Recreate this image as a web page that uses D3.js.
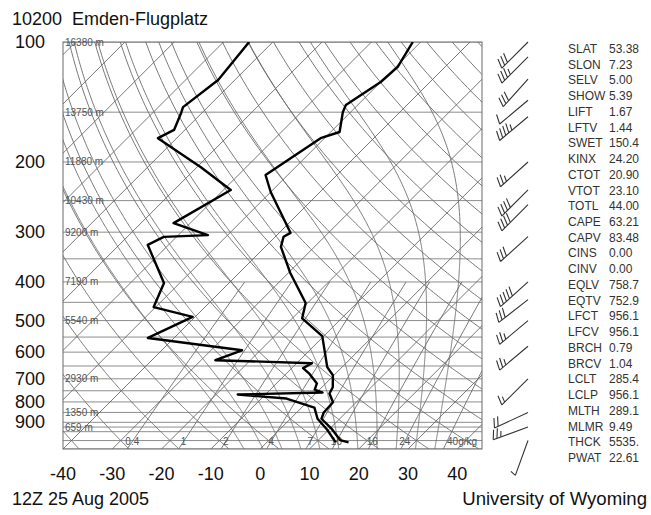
<!DOCTYPE html>
<html><head><meta charset="utf-8">
<script src="https://cdn.jsdelivr.net/npm/d3@7"></script>
<style>body{margin:0;background:#fff}svg{display:block}</style>
</head><body>
<svg id="c" width="651" height="515"></svg>
<script>
// ---------------- data ----------------
const stationTitle = "10200  Emden-Flugplatz";
const footLeft = "12Z 25 Aug 2005";
const footRight = "University of Wyoming";
const pressureTicks = [100,200,300,400,500,600,700,800,900];
const isobarLevels = [100,150,200,250,300,350,400,450,500,550,600,650,700,750,800,850,900,925,950,1000,1050];
const heightLevels = [100,150,200,250,300,400,500,700,850,925];
const heightTexts = ["16380 m","13750 m","11880 m","10430 m","9200 m","7190 m","5540 m","2930 m","1350 m","659 m"];
const tempTicks = [-40,-30,-20,-10,0,10,20,30,40];
const isothermValues = d3.range(-130, 50, 10);
const dryAdiabats = d3.range(-40, 190, 10);
const moistAdiabats = [-6,-2,2,6,10,14,18,22,26,30,34];
const mixRatios = [0.4,1,2,4,7,10,16,24,40];
const mixLabels = ["0.4","1","2","4","7","10","16","24","40g/kg"];

const tempP = [100,115.5,126,143.9,149.8,168.2,174.3,215.6,237.9,301.2,308.2,326.6,379.8,451.6,493.4,547,654.3,685.9,734.9,762,801.7,850.5,881.6,933,997,1011];
const tempT = [-51.6,-49.6,-50.0,-52.4,-51.6,-48.2,-50.8,-54.5,-50.0,-37.7,-38.3,-36.8,-29.6,-20.4,-18.0,-10.3,-3.0,-0.2,2.2,2.8,5.3,5.5,6.3,10.3,14.4,16.6];
const dewP = [100,124.5,145.7,150.7,166.2,174.3,206.1,235.2,284.7,305.1,308.2,323,402.3,462.4,489.5,552.8,593.6,628.7,639.6,658.1,681.7,718.8,744.8,757.8,766.6,784.5,826.5,881.6,939.7,1011];
const dewT = [-84.8,-83.4,-85.0,-84.2,-82.2,-83.8,-69.2,-58.5,-63.4,-54.0,-62.6,-64.2,-53.2,-50.4,-40.5,-45.3,-23.7,-27.1,-6.9,-7.7,-5.1,-1.8,-1.0,1.2,-15.6,-4.9,2.6,5.5,9.7,14.0];

const windP   = [100,109,124,140,154,200,235,256,308,400,443,500,580,700,850,925,1000];
const windDir = [225,225,222,230,230,228,225,225,228,228,232,230,230,225,245,250,200];
const windSpd = [30,35,30,10,45,25,40,40,30,50,30,25,25,15,20,25,5];

const statNames  = ["SLAT","SLON","SELV","SHOW","LIFT","LFTV","SWET","KINX","CTOT","VTOT","TOTL","CAPE","CAPV","CINS","CINV","EQLV","EQTV","LFCT","LFCV","BRCH","BRCV","LCLT","LCLP","MLTH","MLMR","THCK","PWAT"];
const statValues = ["53.38","7.23","5.00","5.39","1.67","1.44","150.4","24.20","20.90","23.10","44.00","63.21","83.48","0.00","0.00","758.7","752.9","956.1","956.1","0.79","1.04","285.4","956.1","289.1","9.49","5535.","22.61"];

// ---------------- layout ----------------
const L = 63, R = 482, T = 42, B = 449;
const FONT = "'Liberation Sans', Arial, Helvetica, sans-serif";
const svg = d3.select("#c");
const y = d3.scaleLog().domain([1050, 100]).range([B, T]);
const x = d3.scaleLinear().domain([-40, 45]).range([L, R]);
const skew = 1.0;
const X = (t, p) => x(t) + (B - y(p)) * skew;

svg.append("defs").append("clipPath").attr("id","plot")
  .append("rect").attr("x",L).attr("y",T).attr("width",R-L).attr("height",B-T);

const grid = svg.append("g").attr("clip-path","url(#plot)")
  .attr("fill","none").attr("stroke","#6a6a6a").attr("stroke-width",0.9);
const line = d3.line().x(d=>d[0]).y(d=>d[1]);

// isobars
grid.selectAll(".isobar").data(isobarLevels).join("line")
  .attr("x1",L).attr("x2",R).attr("y1",d=>y(d)).attr("y2",d=>y(d))
  .attr("stroke","#808080");

// isotherms
grid.selectAll(".iso").data(isothermValues).join("line")
  .attr("x1",d=>X(d,1050)).attr("y1",y(1050))
  .attr("x2",d=>X(d,100)).attr("y2",y(100));

const pLevels = d3.range(1050, 99, -5);
// dry adiabats
grid.selectAll(".dry").data(dryAdiabats).join("path")
  .attr("d", th => line(pLevels.map(p => {
    const tk = (th + 273.15) * Math.pow(p/1000, 0.2857) - 273.15;
    return [X(tk,p), y(p)];
  })));

// moist adiabats
function es(tc){ return 6.112*Math.exp(17.67*tc/(tc+243.5)); }
function dTdp(tk, p){
  const Rd=287.04, Cp=1005.7, Lv=2.501e6, eps=0.622;
  const e = es(tk-273.15), rs = eps*e/(p-e);
  return (Rd*tk + Lv*rs)/(Cp + Lv*Lv*rs*eps/(Rd*tk*tk))/p;
}
function moist(t0){
  let tk=t0+273.15, p=1000, h=-2;
  const up=[[p,tk]];
  while(p>100){ const k1=dTdp(tk,p),k2=dTdp(tk+h*k1/2,p+h/2),k3=dTdp(tk+h*k2/2,p+h/2),k4=dTdp(tk+h*k3,p+h);
    tk+=h*(k1+2*k2+2*k3+k4)/6; p+=h; up.push([p,tk]); }
  tk=t0+273.15; p=1000; h=2; const dn=[];
  while(p<1050){ const k1=dTdp(tk,p),k2=dTdp(tk+h*k1/2,p+h/2),k3=dTdp(tk+h*k2/2,p+h/2),k4=dTdp(tk+h*k3,p+h);
    tk+=h*(k1+2*k2+2*k3+k4)/6; p+=h; dn.push([p,tk]); }
  return dn.reverse().concat(up).map(([pp,t])=>[X(t-273.15,pp),y(pp)]);
}
grid.selectAll(".moist").data(moistAdiabats).join("path").attr("d", d=>line(moist(d)));

// mixing ratio lines
function tdOf(w,p){ const e=w*p/(622+w); const l=Math.log(e/6.112); return 243.5*l/(17.67-l); }
const mixP = d3.range(1050, 399, -10);
grid.selectAll(".mix").data(mixRatios).join("path")
  .attr("d", w => line(mixP.map(p => [X(tdOf(w,p),p), y(p)])));

// border
svg.append("rect").attr("x",L).attr("y",T).attr("width",R-L).attr("height",B-T)
  .attr("fill","none").attr("stroke","#6a6a6a").attr("stroke-width",1);

// height labels
svg.append("g").selectAll("text").data(heightLevels).join("text")
  .attr("x",L+2).attr("y",d=>y(d)+3.5).text((d,i)=>heightTexts[i])
  .attr("font-family",FONT).attr("font-size",10).attr("fill","#555");

// mixing ratio labels
svg.append("g").selectAll("text").data(mixRatios).join("text")
  .attr("x",w=>X(tdOf(w,1005),1005)).attr("y",y(1005)+4).attr("text-anchor",(w,i)=>i===8?"start":"middle")
  .text((w,i)=>mixLabels[i]).attr("font-family",FONT).attr("font-size",10).attr("fill","#555");

// profiles
const prof = svg.append("g").attr("clip-path","url(#plot)").attr("fill","none")
  .attr("stroke","#000").attr("stroke-width",2.4).attr("stroke-linejoin","round");
prof.append("path").attr("d", line(tempP.map((p,i)=>[X(tempT[i],p), y(p)])));
prof.append("path").attr("d", line(dewP.map((p,i)=>[X(dewT[i],p), y(p)])));

// pressure axis labels
svg.append("g").selectAll("text").data(pressureTicks).join("text")
  .attr("x",45).attr("y",d=>y(d)+6).attr("text-anchor","end").text(d=>d)
  .attr("font-family",FONT).attr("font-size",18).attr("fill","#111");

// temperature axis labels
svg.append("g").selectAll("text").data(tempTicks).join("text")
  .attr("x",d=>x(d)).attr("y",480).attr("text-anchor","middle").text(d=>d)
  .attr("font-family",FONT).attr("font-size",18).attr("fill","#111");

// titles
svg.append("text").attr("x",12).attr("y",25).attr("xml:space","preserve").style("white-space","pre")
  .text(stationTitle).attr("font-family",FONT).attr("font-size",18).attr("fill","#111");
svg.append("text").attr("x",12).attr("y",505).text(footLeft)
  .attr("font-family",FONT).attr("font-size",18).attr("fill","#111");
svg.append("text").attr("x",647).attr("y",505).attr("text-anchor","end").text(footRight)
  .attr("font-family",FONT).attr("font-size",18.6).attr("fill","#111");

// wind barbs
const bx = 528, staff = 37;
const barbs = svg.append("g").attr("fill","none").attr("stroke","#333").attr("stroke-width",1.1);
const vec = (a,len)=>[Math.sin(a*Math.PI/180)*len, -Math.cos(a*Math.PI/180)*len];
windP.forEach((p,i)=>{
  const oy = y(p), dir = windDir[i];
  const [sx,sy] = vec(dir, staff);
  let path = `M${bx},${oy}L${bx+sx},${oy+sy}`;
  let spd = Math.round(windSpd[i]/5)*5, k = 0;
  const step = 4;
  const fa = dir + 112;
  while (spd >= 10) {
    const f = 1 - (k*step)/staff;
    const px = bx + sx*f, py = oy + sy*f;
    const [fx,fy] = vec(fa, 10);
    path += `M${px},${py}l${fx},${fy}`;
    spd -= 10; k++;
  }
  if (spd >= 5) {
    const f = 1 - (k*step)/staff;
    const px = bx + sx*f, py = oy + sy*f;
    const [fx,fy] = vec(fa, 6);
    path += `M${px},${py}l${fx},${fy}`;
  }
  barbs.append("path").attr("d", path);
});

// stats
const st = svg.append("g").attr("font-family",FONT).attr("font-size",12).attr("fill","#333");
statNames.forEach((n,i)=>{
  st.append("text").attr("x",568).attr("y",53+i*15.73).text(n);
  st.append("text").attr("x",609).attr("y",53+i*15.73).text(statValues[i]);
});
</script>
</body></html>
